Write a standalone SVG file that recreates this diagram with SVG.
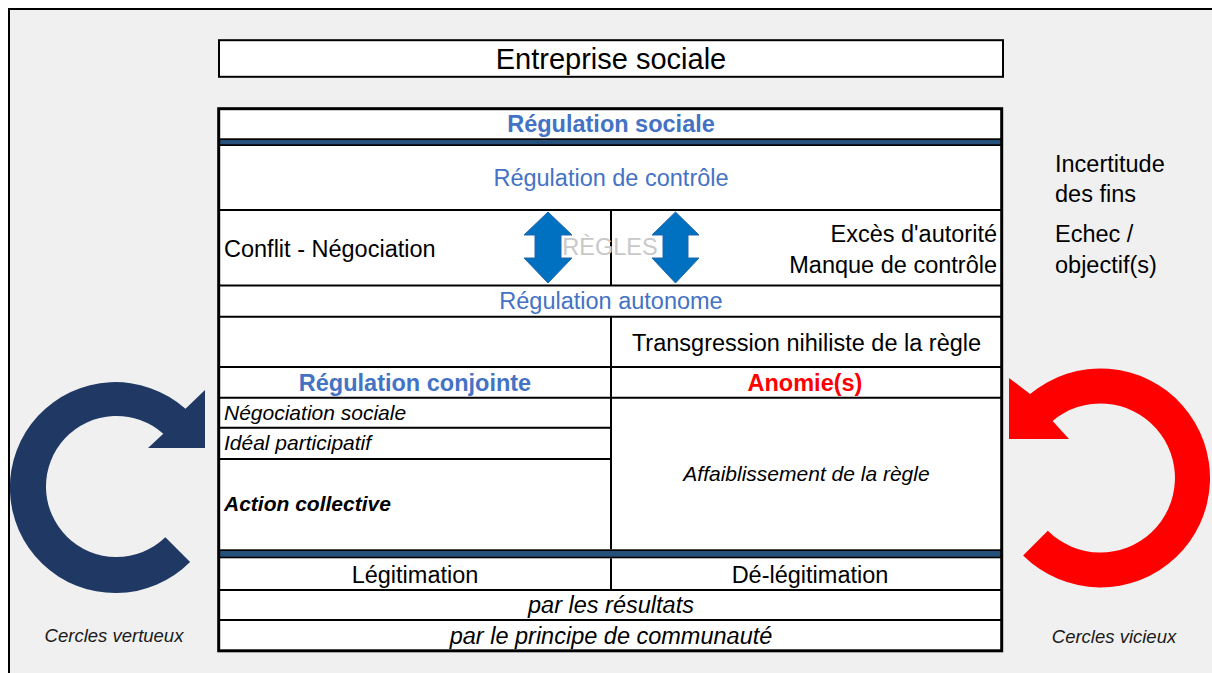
<svg xmlns="http://www.w3.org/2000/svg" width="1212" height="673" viewBox="0 0 1212 673">
<style>
text{font-family:"Liberation Sans",Arial,sans-serif;fill:#000}
.n{font-size:23.5px}
.c{text-anchor:middle}
.r{text-anchor:end}
.blue{fill:#4472C4}
.b{font-weight:bold}
.i{font-style:italic}
.s{font-size:21px}
.cap{font-size:18.5px;font-style:italic;fill:#1a1a1a}
.ln{stroke:#000;stroke-width:2;fill:none}
.band{fill:#24507A}
.blk{fill:#0070C0;stroke:#2566A8;stroke-width:1}
</style>
<rect x="0" y="0" width="1212" height="673" fill="#ffffff"/>
<rect id="frame" x="9" y="9" width="1212" height="672" fill="#F0F0F0" stroke="#000" stroke-width="2"/>

<g id="title">
<rect x="219" y="40.2" width="784" height="36.6" fill="#fff" stroke="#000" stroke-width="2"/>
<text x="611" y="68.5" class="c" font-size="29">Entreprise sociale</text>
</g>

<g id="table">
<rect x="218.7" y="108.7" width="783" height="542.1" fill="#fff"/>
<rect x="218.7" y="138.3" width="783" height="7.7" fill="#000"/>
<rect x="218.7" y="140" width="783" height="4.3" class="band"/>
<rect x="218.7" y="549.3" width="783" height="9" fill="#000"/>
<rect x="218.7" y="551" width="783" height="5.7" class="band"/>
<path class="ln" d="M218.7 210H1001.7M218.7 285.5H1001.7M218.7 316.7H1001.7M218.7 367H1001.7M218.7 397.7H1001.7M218.7 427.7H611M218.7 459H611M218.7 590H1001.7M218.7 620H1001.7M611 210V285.5M611 316.7V549.3M611 558.3V590"/>
<rect x="218.7" y="108.7" width="783" height="542.1" fill="none" stroke="#000" stroke-width="3"/>
</g>

<g id="connectors">
<polygon class="blk" points="548,212 572,235 561,235 561,258 572,258 548,283 524,258 535,258 535,235 524,235"/>
<polygon class="blk" points="675.5,212 699,235 688,235 688,258 699,258 675.5,283 652,258 663,258 663,235 652,235"/>
<path id="cercle-vertueux-arrow" fill="#203864" d="M190.1,562.1 A105.5,105.5 0 1 1 185.5,408.8 L205,390 L205,448 L148,448 L163.3,433.8 A70.5,70.5 0 1 0 165.35,537.35 Z"/>
<path id="cercle-vicieux-arrow" fill="#FF0000" d="M1023.1,555.4 A109.5,109.5 0 1 0 1030.1,394.1 L1009,378 L1009,439 L1069,439 L1052.6,420.9 A74.5,74.5 0 1 1 1047.8,530.7 Z"/>
</g>

<g id="regulation-sociale"><text x="611" y="132" class="n c b blue">Régulation sociale</text></g>
<g id="regulation-controle"><text x="611" y="186" class="n c blue">Régulation de contrôle</text></g>
<g id="conflit"><text x="224" y="257" class="n">Conflit - Négociation</text></g>
<g id="regles"><text x="610" y="255" class="n c" fill="#C8C8C8" style="fill:#C8C8C8">RÈGLES</text></g>
<g id="exces">
<text x="997" y="242" class="n r">Excès d'autorité</text>
<text x="997" y="273" class="n r">Manque de contrôle</text>
</g>
<g id="regulation-autonome"><text x="611" y="309" class="n c blue">Régulation autonome</text></g>
<g id="transgression"><text x="806.5" y="351" class="n c">Transgression nihiliste de la règle</text></g>
<g id="regulation-conjointe"><text x="415" y="391" class="n c b blue">Régulation conjointe</text></g>
<g id="anomie"><text x="805" y="391" class="n c b" style="fill:#FF0000">Anomie(s)</text></g>
<g id="negociation-sociale"><text x="224" y="420" class="s i">Négociation sociale</text></g>
<g id="ideal"><text x="224" y="450" class="s i">Idéal participatif</text></g>
<g id="action"><text x="224" y="511" class="s i b">Action collective</text></g>
<g id="affaiblissement"><text x="806.5" y="481" class="s i c">Affaiblissement de la règle</text></g>
<g id="legitimation"><text x="415" y="583" class="n c">Légitimation</text></g>
<g id="delegitimation"><text x="810" y="583" class="n c">Dé-légitimation</text></g>
<g id="resultats"><text x="611" y="613" class="n c i">par les résultats</text></g>
<g id="communaute"><text x="611" y="644" class="n c i">par le principe de communauté</text></g>
<g id="incertitude">
<text x="1055" y="172" class="n">Incertitude</text>
<text x="1055" y="202" class="n">des fins</text>
</g>
<g id="echec">
<text x="1055" y="242" class="n">Echec /</text>
<text x="1055" y="273" class="n">objectif(s)</text>
</g>
<g id="cercles-vertueux"><text x="114" y="642" class="cap c">Cercles vertueux</text></g>
<g id="cercles-vicieux"><text x="1114" y="643" class="cap c">Cercles vicieux</text></g>
</svg>
